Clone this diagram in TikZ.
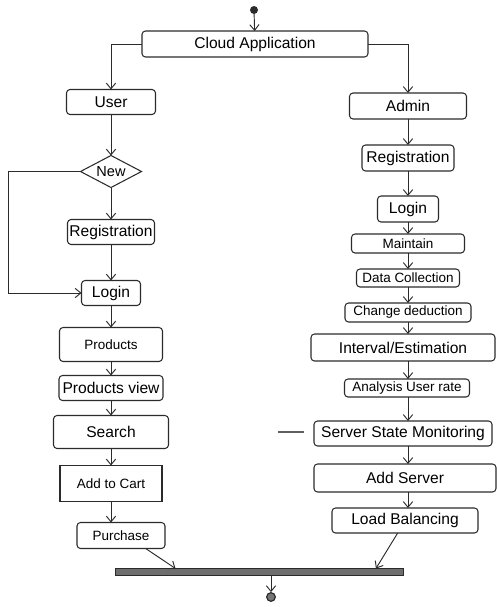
\documentclass[tikz,border=0pt]{standalone}
\usepackage{fontspec}
\setmainfont{Liberation Sans}
\usepackage{xcolor}
\definecolor{cLine}{HTML}{2B2B2B}
\definecolor{cBar}{HTML}{6E6E6E}
\usetikzlibrary{positioning,arrows.meta,shapes.geometric,calc}
\tikzset{
  act-box/.style={draw=cLine,line width=0.9pt,rounded corners=3pt,inner sep=0pt,
    outer sep=0pt,align=center,font=\fontsize{13.3}{15}\selectfont},
  act-small/.style={act-box,font=\fontsize{11.5}{13}\selectfont},
  act-plain/.style={act-small,sharp corners},
  act-decision/.style={draw=cLine,line width=0.9pt,diamond,aspect=2,inner sep=0pt,
    outer sep=0pt,font=\fontsize{12.4}{14}\selectfont},
  act-start/.style={circle,fill=cLine,inner sep=0pt,minimum size=2.4mm},
  act-end/.style={circle,draw=cLine,line width=1pt,fill=cLine!65,inner sep=0pt,
    minimum size=2.6mm},
  act-bar/.style={draw=cLine,fill=cBar,inner sep=0pt,outer sep=0pt,
    minimum width=86.4mm,minimum height=2.1mm},
  boxsz/.style 2 args={minimum width=#1,minimum height=#2},
  arrow/.style={-{Straight Barb[length=1.7mm,width=2.8mm]},line width=0.8pt,draw=cLine},
}

\begin{document}
\begin{tikzpicture}
  \useasboundingbox (0,0) rectangle (148.8mm,-182.1mm);
  % top
  \node[act-start] (start) at (76.2mm,-3mm) {};
  \node[act-box,boxsz={67.8mm}{7.8mm}] (cloud) at (76.5mm,-13.2mm) {Cloud Application};
  % user side
  \node[act-box,boxsz={26.7mm}{7.5mm}] (user) at (33.3mm,-30.6mm) {User};
  \node[act-decision,boxsz={18.3mm}{9.6mm},below=12.3mm of user] (new) {New};
  \node[act-box,boxsz={26.1mm}{7.5mm},below=9.6mm of new] (regu) {Registration};
  \node[act-box,boxsz={17.7mm}{7.5mm},below=10.8mm of regu] (logu) {Login};
  \node[act-small,boxsz={30.9mm}{10.2mm},below=6.6mm of logu] (prod) {Products};
  \node[act-box,boxsz={31.2mm}{7.5mm},below=4.2mm of prod] (pview) {Products view};
  \node[act-box,boxsz={34.5mm}{9.9mm},below=4.5mm of pview] (search) {Search};
  \node[act-plain,boxsz={30.6mm}{10.8mm},below=5.1mm of search] (cart) {Add to Cart};
  \node[act-small,boxsz={26.4mm}{7.8mm},below=6.3mm of cart,xshift=3mm] (buy) {Purchase};
  % admin side
  \node[act-box,boxsz={35.1mm}{7.8mm}] (admin) at (122.4mm,-31.8mm) {Admin};
  \node[act-box,boxsz={27.6mm}{7.8mm},below=7.8mm of admin] (rega) {Registration};
  \node[act-box,boxsz={18.3mm}{7.8mm},below=7.5mm of rega] (loga) {Login};
  \node[act-small,boxsz={33.9mm}{5.7mm},below=3.6mm of loga] (maint) {Maintain};
  \node[act-small,boxsz={30.9mm}{5.4mm},below=4.8mm of maint] (coll) {Data Collection};
  \node[act-small,boxsz={37.8mm}{5.7mm},below=4.8mm of coll] (chg) {Change deduction};
  \node[act-box,boxsz={55.2mm}{8.1mm},below=3.6mm of chg,xshift=-1.5mm] (est) {Interval/Estimation};
  \node[act-small,boxsz={37.5mm}{5.4mm},below=5.4mm of est,xshift=1.2mm] (rate) {Analysis User rate};
  \node[act-box,boxsz={53.4mm}{7.5mm},below=7.2mm of rate,xshift=-1.2mm] (mon) {Server State Monitoring};
  \node[act-box,boxsz={54.6mm}{8.4mm},below=5.4mm of mon,xshift=0.6mm] (add) {Add Server};
  \node[act-box,boxsz={43.8mm}{7.5mm},below=4.8mm of add] (lb) {Load Balancing};
  % join
  \node[act-bar] (bar) at (77.7mm,-171.6mm) {};
  \node[act-end] (stop) at (81.3mm,-179.1mm) {};

  \draw[arrow] (start) -- (cloud);
  \draw[arrow] (cloud.west) -| (user);
  \draw[arrow] (cloud.east) -| (admin);
  \draw[arrow] (user) -- (new);
  \draw[arrow] (new) -- (regu);
  \draw[arrow] (new.west) -- ++(-21.6mm,0) |- (logu.west);
  \draw[arrow] (regu) -- (logu);
  \draw[arrow] (logu) -- (prod);
  \draw[arrow] (prod) -- (pview);
  \draw[arrow] (pview) -- (search);
  \draw[arrow] (search) -- (cart);
  \draw[arrow] (cart) -- (cart |- buy.north);
  \foreach \a/\b in {admin/rega,rega/loga,loga/maint,maint/coll,coll/chg,chg/est,
      est/rate,rate/mon,mon/add,add/lb}
    \draw[arrow] (\a.south -| admin) -- (\b.north -| admin);
  \draw[arrow] ($(buy.south east)!0.22!(buy.south west)$) -- ($(bar.north west)!0.21!(bar.north east)$);
  \draw[arrow] ($(lb.south west)!0.45!(lb.south east)$) -- ($(bar.north west)!0.906!(bar.north east)$);
  \draw[arrow] (bar.south -| stop) -- (stop);
  % smudge left of the monitoring box
  \draw[line width=2pt,cLine!75] (83.4mm,-129.6mm) -- ++(7.8mm,0);
\end{tikzpicture}
\end{document}
